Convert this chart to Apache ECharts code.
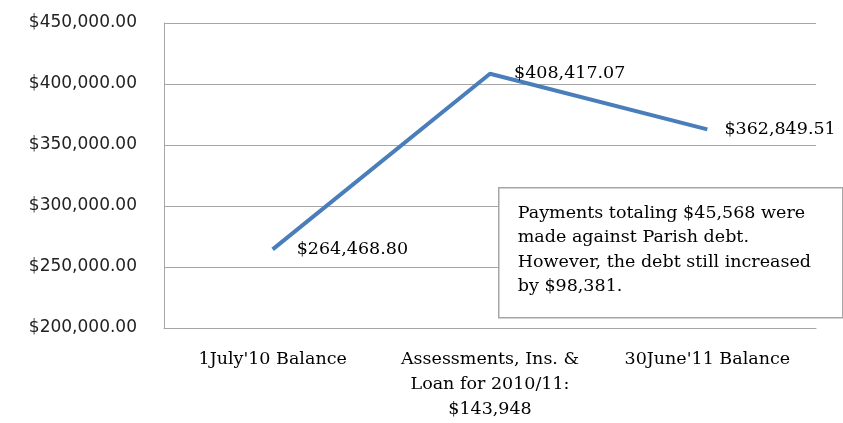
<!DOCTYPE html>
<html><head><meta charset="utf-8">
<script src="https://cdn.jsdelivr.net/npm/echarts@6/dist/echarts.min.js"></script>
<style>html,body{margin:0;padding:0;background:#fff}#c{width:843px;height:423px}</style>
</head><body><div id="c"></div>
<script>
const categories = ["1July'10 Balance", "Assessments, Ins. &\nLoan for 2010/11:\n$143,948", "30June'11 Balance"];
const balances = [264468.80, 408417.07, 362849.51];
const yTicks = [200000, 250000, 300000, 350000, 400000, 450000];
const noteLines = ["Payments totaling $45,568 were", "made against Parish debt.", "However, the debt still increased", "by $98,381."];

const serif = "'DejaVu Serif', 'Liberation Serif', serif";
const fmt = v => '$' + v.toLocaleString('en-US', {minimumFractionDigits: 2, maximumFractionDigits: 2});
const labelGap = [24, 24, 17];

const chart = echarts.init(document.getElementById('c'));
chart.setOption({
  animation: false,
  grid: {left: 164, right: 27, top: 23, bottom: 95, containLabel: false},
  xAxis: {
    type: 'category', data: categories, boundaryGap: true,
    axisLine: {lineStyle: {color: '#a6a6a6', width: 1}},
    axisTick: {show: false},
    axisLabel: {interval: 0, margin: 19, color: '#000', fontFamily: serif, fontSize: 17.5, lineHeight: 25}
  },
  yAxis: {
    type: 'value', min: yTicks[0], max: yTicks[yTicks.length - 1], interval: 50000,
    axisLine: {show: true, lineStyle: {color: '#a6a6a6', width: 1}},
    axisTick: {show: false},
    splitLine: {lineStyle: {color: '#a6a6a6', width: 1}},
    axisLabel: {margin: 27, color: '#222', fontFamily: "'DejaVu Sans', Verdana, sans-serif", fontSize: 17, formatter: fmt}
  },
  series: [{
    type: 'line',
    data: balances.map((v, i) => ({value: v, label: {distance: labelGap[i]}})),
    showSymbol: true, symbol: 'circle', symbolSize: 0.1,
    itemStyle: {color: '#4a7ebb'},
    lineStyle: {color: '#4a7ebb', width: 4},
    label: {show: true, position: 'right', color: '#000', fontFamily: serif, fontSize: 17.5, formatter: p => fmt(p.value)}
  }],
  graphic: [{
    type: 'group', left: 498, top: 187, z: 100,
    children: [
      {type: 'rect', z: 100, shape: {x: 0, y: 0, width: 344, height: 130}, style: {fill: '#fff', stroke: '#a6a6a6', lineWidth: 1.5}},
      {type: 'text', z: 101, x: 19, y: 13, style: {text: noteLines.join('\n'), fill: '#000', font: "17.5px " + serif, lineHeight: 24.5}}
    ]
  }]
});
</script></body></html>
